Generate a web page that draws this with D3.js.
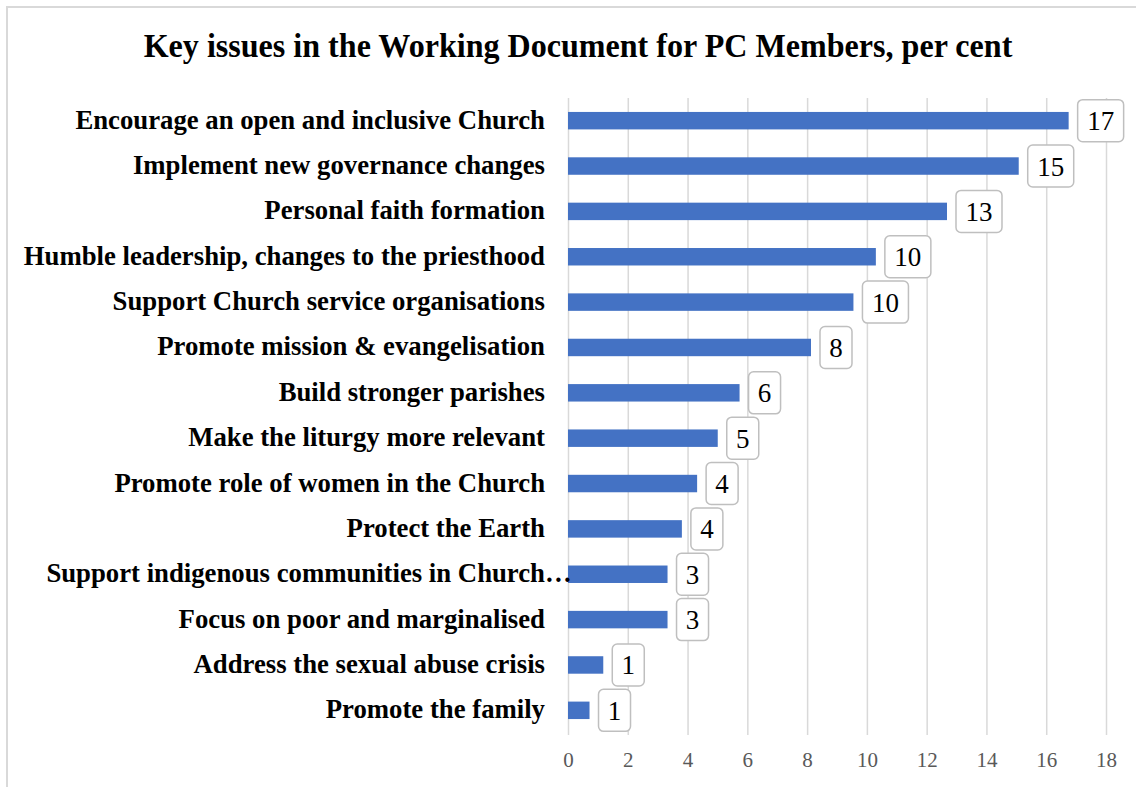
<!DOCTYPE html>
<html>
<head>
<meta charset="utf-8">
<script src="https://cdn.jsdelivr.net/npm/d3@7"></script>
<style>
  html, body { margin: 0; padding: 0; background: #ffffff; }
  svg { display: block; }
</style>
</head>
<body>
<svg id="chart" width="1136" height="787"></svg>
<script>
// ---- data ----
const title = "Key issues in the Working Document for PC Members, per cent";
const categories = [
  "Encourage an open and inclusive Church",
  "Implement new governance changes",
  "Personal faith formation",
  "Humble leadership, changes to the priesthood",
  "Support Church service organisations",
  "Promote mission & evangelisation",
  "Build stronger parishes",
  "Make the liturgy more relevant",
  "Promote role of women in the Church",
  "Protect the Earth",
  "Support indigenous communities in Church\u2026",
  "Focus on poor and marginalised",
  "Address the sexual abuse crisis",
  "Promote the family"
];
const values = [16.75, 15.08, 12.68, 10.3, 9.55, 8.13, 5.74, 5.01, 4.32, 3.81, 3.33, 3.33, 1.18, 0.72];
const dataLabels = ["17", "15", "13", "10", "10", "8", "6", "5", "4", "4", "3", "3", "1", "1"];
const xTicks = [0, 2, 4, 6, 8, 10, 12, 14, 16, 18];

// ---- layout ----
const svg = d3.select("#chart");
const W = 1136, H = 787;
const plot = { left: 568, right: 1106, top: 98, bottom: 733 };
const serif = "'Liberation Serif', 'Times New Roman', serif";

// frame
svg.append("rect").attr("x", 7).attr("y", 7).attr("width", W + 10).attr("height", H + 10)
  .attr("fill", "#fff").attr("stroke", "#d9d9d9").attr("stroke-width", 2);

const x = d3.scaleLinear().domain([0, 18]).range([plot.left, plot.right]);
const y = d3.scaleBand().domain(categories).range([plot.top, plot.bottom])
  .paddingInner(0.615).paddingOuter(0.3075);

function squeeze(sel, f) {
  sel.each(function () {
    const len = this.getComputedTextLength();
    d3.select(this).attr("textLength", len * f).attr("lengthAdjust", "spacingAndGlyphs");
  });
}

// title
svg.append("text").attr("x", 578).attr("y", 57)
  .attr("text-anchor", "middle")
  .attr("font-family", serif).attr("font-weight", "bold").attr("font-size", 33)
  .attr("fill", "#000").text(title)
  .call(squeeze, 0.972);

// grid via axis
const xAxis = d3.axisBottom(x).tickValues(xTicks).tickSize(-(plot.bottom - plot.top + 2)).tickPadding(17);
const gx = svg.append("g").attr("transform", `translate(0,${plot.bottom + 2})`).call(xAxis);
gx.select(".domain").remove();
gx.selectAll(".tick line").attr("stroke", "#d9d9d9").attr("stroke-width", 1.5);
gx.selectAll(".tick text").attr("font-family", serif).attr("font-size", 21)
  .attr("fill", "#595959").attr("dy", "0.71em");

// bars
svg.append("g").selectAll("rect").data(values).join("rect")
  .attr("x", x(0))
  .attr("y", (d, i) => y(categories[i]))
  .attr("width", d => x(d) - x(0))
  .attr("height", y.bandwidth())
  .attr("fill", "#4472C4");

// category labels
const LABEL_SQ = 0.99;
const labG = svg.append("g")
  .attr("font-family", serif).attr("font-weight", "bold").attr("font-size", 27).attr("fill", "#000");
// width of an ellipsis (for the truncated label, which overhangs the label column like the original)
const tmp = labG.append("text").text("\u2026");
const ellW = tmp.node().getComputedTextLength() * LABEL_SQ;
tmp.remove();
categories.forEach((c, i) => {
  const cy = y(c) + y.bandwidth() / 2;
  const ell = c.endsWith("\u2026");
  labG.append("text").attr("x", 545 + (ell ? ellW : 0)).attr("y", cy + 8)
    .attr("text-anchor", "end").text(c)
    .call(squeeze, LABEL_SQ);
});

// data label boxes
const boxG = svg.append("g");
values.forEach((v, i) => {
  const cy = y(categories[i]) + y.bandwidth() / 2;
  const lbl = dataLabels[i];
  const bw = lbl.length > 1 ? 46 : 32;
  const bh = 42;
  const bx = x(v) + 9;
  boxG.append("rect").attr("x", bx).attr("y", cy - bh / 2).attr("width", bw).attr("height", bh)
    .attr("rx", 5).attr("ry", 5)
    .attr("fill", "#fff").attr("stroke", "#bfbfbf").attr("stroke-width", 1.5);
  boxG.append("text").attr("x", bx + bw / 2).attr("y", cy + 9.5)
    .attr("text-anchor", "middle").attr("font-family", serif).attr("font-size", 27)
    .attr("fill", "#000").text(lbl);
});
</script>
</body>
</html>
